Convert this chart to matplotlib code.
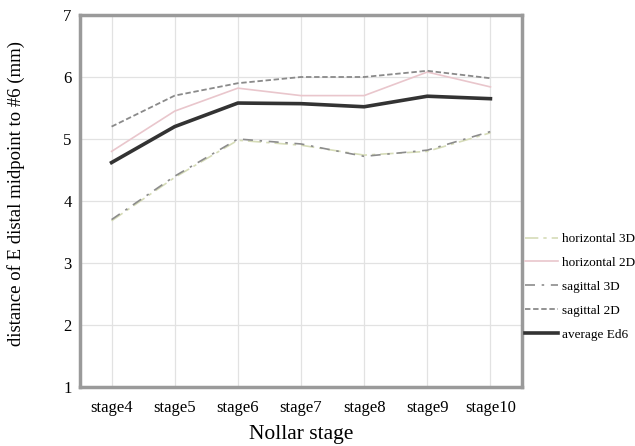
import matplotlib
matplotlib.use("Agg")
import matplotlib.pyplot as plt

plt.rcParams['font.family'] = ['Liberation Serif', 'DejaVu Serif']

stages = ['stage4', 'stage5', 'stage6', 'stage7', 'stage8', 'stage9', 'stage10']
horizontal_3d = [3.68, 4.38, 4.98, 4.90, 4.74, 4.80, 5.10]
horizontal_2d = [4.80, 5.45, 5.82, 5.70, 5.70, 6.08, 5.84]
sagittal_3d = [3.70, 4.40, 5.00, 4.92, 4.72, 4.82, 5.12]
sagittal_2d = [5.20, 5.70, 5.90, 6.00, 6.00, 6.10, 5.98]
average_ed6 = [4.62, 5.20, 5.58, 5.57, 5.52, 5.69, 5.65]

x = list(range(len(stages)))

fig = plt.figure(figsize=(6.35, 4.46), dpi=100)
ax = fig.add_axes([80 / 635, 1 - 387 / 446, 442 / 635, 372 / 446])

ax.plot(x, horizontal_3d, color='#d6dcb8', lw=1.2, linestyle=(0, (8, 3, 2, 3)), label='horizontal 3D')
ax.plot(x, horizontal_2d, color='#e9c6cc', lw=1.2, label='horizontal 2D')
ax.plot(x, sagittal_3d, color='#8c8c8c', lw=1.2, linestyle=(0, (6, 4, 1.5, 4)), label='sagittal 3D')
ax.plot(x, sagittal_2d, color='#8a8a8a', lw=1.3, linestyle=(0, (3, 1.5)), label='sagittal 2D')
ax.plot(x, average_ed6, color='#333333', lw=2.6, label='average Ed6')

ax.set_xlim(-0.5, 6.5)
ax.set_ylim(1, 7)
ax.set_yticks(range(1, 8))
ax.set_xticks(x)
ax.set_xticklabels(stages)
ax.tick_params(length=0, labelsize=12)
ax.tick_params(axis='x', pad=9)
ax.tick_params(axis='y', pad=6)
ax.grid(True, color='#e2e2e2', lw=0.9)
ax.set_axisbelow(True)
for s in ax.spines.values():
    s.set_color('#9a9a9a')
    s.set_linewidth(2.5)

ax.set_xlabel('Nollar stage', fontsize=15.5, labelpad=7)
ax.set_ylabel('distance of E distal midpoint to #6 (mm)', fontsize=13.5)
ax.yaxis.set_label_coords(-0.125, 0.52)

ax.legend(loc='upper left', bbox_to_anchor=(525 / 635, 1 - 233 / 446),
          bbox_transform=fig.transFigure, frameon=False, fontsize=9.5,
          handlelength=2.5, handletextpad=0.3, labelspacing=0.88,
          borderpad=0, borderaxespad=0)

fig.savefig('out.png', dpi=100)
